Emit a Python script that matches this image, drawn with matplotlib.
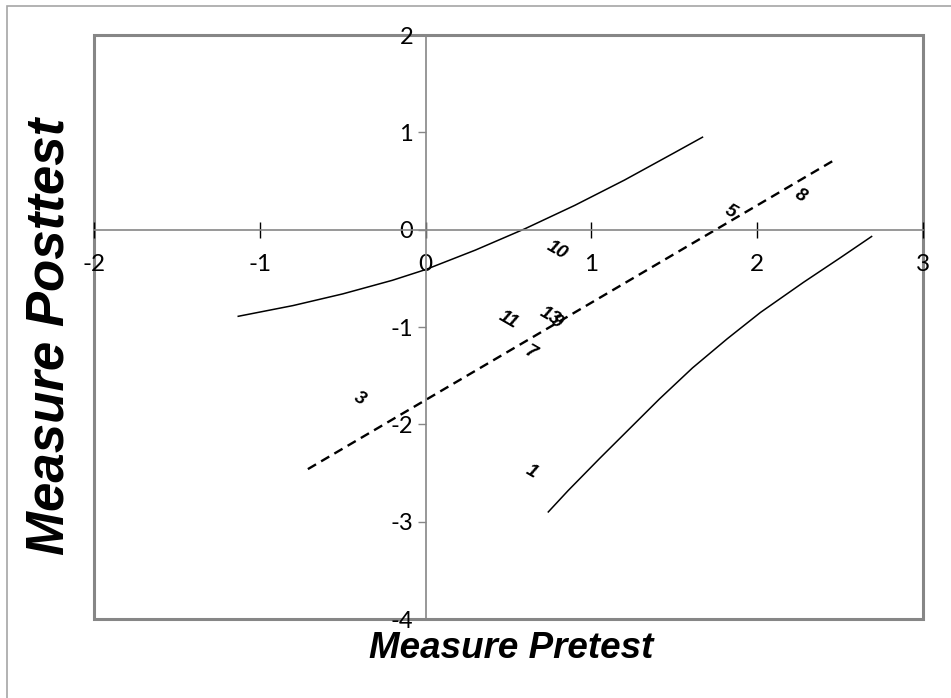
import matplotlib
matplotlib.use('Agg')
import matplotlib.pyplot as plt
from matplotlib.patches import Rectangle

plt.rcParams['axes.unicode_minus'] = False

# upper and lower confidence curves
upper_x = [-1.13, -0.8, -0.5, -0.2, 0.0, 0.3, 0.6, 0.9, 1.2, 1.5, 1.67]
upper_y = [-0.89, -0.78, -0.66, -0.52, -0.41, -0.21, 0.01, 0.25, 0.51, 0.79, 0.95]
lower_x = [0.74, 0.86, 1.05, 1.41, 1.61, 1.82, 2.02, 2.28, 2.50, 2.69]
lower_y = [-2.90, -2.68, -2.35, -1.74, -1.42, -1.12, -0.85, -0.54, -0.29, -0.07]

# dashed line
line_x = [-0.71, 2.47]
line_y = [-2.46, 0.72]

# item labels
item_names = ['1', '3', '5', '7', '8', '10', '11', '13', '9']
item_x = [0.64, -0.40, 1.84, 0.63, 2.26, 0.79, 0.50, 0.75, 0.79]
item_y = [-2.49, -1.74, 0.18, -1.26, 0.35, -0.21, -0.93, -0.89, -0.95]

x_ticks = [-2, -1, 0, 1, 2, 3]
y_ticks = [-4, -3, -2, -1, 0, 1, 2]

fig = plt.figure(figsize=(9.51, 6.98), dpi=100)
ax = fig.add_axes([94/951, 1 - 619/698, (923 - 94)/951, (619 - 35)/698])

# outer chart border
fig.patches.append(Rectangle((7/951, -0.1), 1.2, 1 - 6/698 + 0.1, transform=fig.transFigure,
                             fill=False, edgecolor='#a6a6a6', linewidth=1.2, clip_on=False))

ax.plot(upper_x, upper_y, color='black', linewidth=1.1)
ax.plot(lower_x, lower_y, color='black', linewidth=1.1)
ax.plot(line_x, line_y, color='black', linewidth=1.7, linestyle=(0, (4, 2.5)))

for name, x, y in zip(item_names, item_x, item_y):
    ax.text(x, y, name, rotation=-30, rotation_mode='anchor', ha='center', va='center',
            fontsize=13.5, fontweight='bold', fontstyle='italic', family='Liberation Sans')

ax.set_xlim(-2, 3)
ax.set_ylim(-4, 2)
ax.set_xticks(x_ticks)
ax.set_yticks(y_ticks)

ax.spines['left'].set_position(('data', 0))
ax.spines['bottom'].set_position(('data', 0))
ax.spines['left'].set_color('#868686')
ax.spines['bottom'].set_color('#868686')
ax.spines['left'].set_linewidth(1.2)
ax.spines['bottom'].set_linewidth(1.2)
ax.spines['top'].set_visible(False)
ax.spines['right'].set_visible(False)

# plot area frame
ax.add_patch(Rectangle((0, 0), 1, 1, transform=ax.transAxes, fill=False,
                       edgecolor='#868686', linewidth=2.2, clip_on=False))

ax.tick_params(axis='x', direction='inout', length=11, width=1, color='black',
               labelsize=17.5, pad=12)
ax.tick_params(axis='y', direction='out', length=6, width=1, color='#868686',
               labelsize=17, pad=3)
for lab in ax.get_xticklabels() + ax.get_yticklabels():
    lab.set_family('Lato')

fig.text(511/951, 1 - 649/698, 'Measure Pretest', ha='center', va='center',
         fontsize=26.5, fontweight='bold', fontstyle='italic', family='Liberation Sans')
fig.text(50/951, 1 - 336/698, 'Measure Posttest', ha='center', va='center', rotation=90,
         fontsize=38, fontweight='bold', fontstyle='italic', family='Liberation Sans')

fig.savefig('out.png', dpi=100)
